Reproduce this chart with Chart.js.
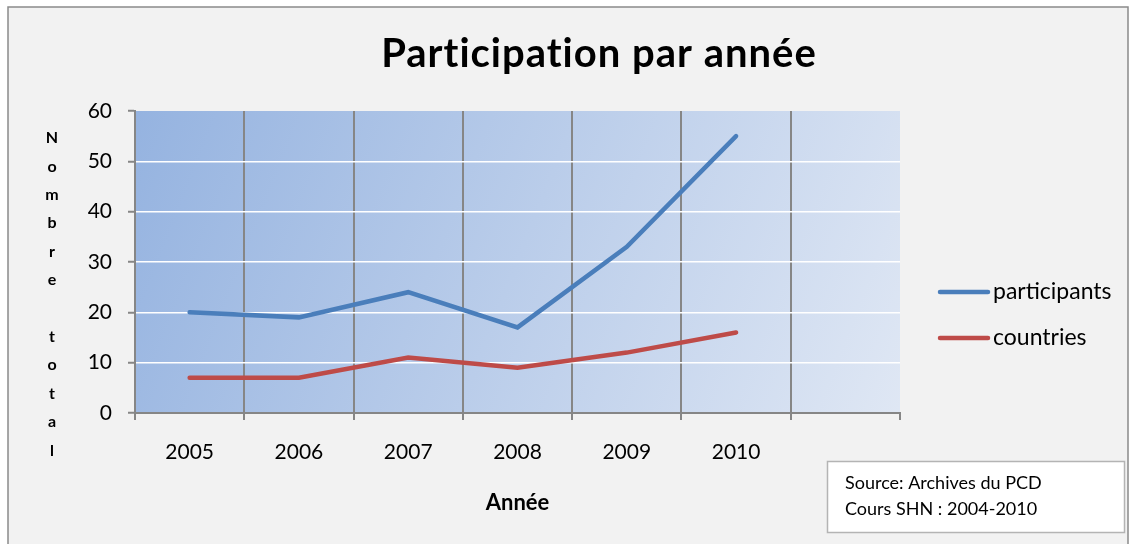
<!DOCTYPE html>
<html>
<head>
<meta charset="utf-8">
<script src="https://cdn.jsdelivr.net/npm/chart.js@4.4.1/dist/chart.umd.min.js"></script>
<style>
    html, body { margin: 0; padding: 0; background: #fff; }
    #cadre { width: 1133px; height: 544px; position: relative; }
</style>
</head>
<body>
<div id="cadre"><canvas id="estadistica1"></canvas></div>
<script>
// données
const annees = ['2005', '2006', '2007', '2008', '2009', '2010', ''];
const participants = [20, 19, 24, 17, 33, 55];
const pays = [7, 7, 11, 9, 12, 16];
const ticksY = [0, 10, 20, 30, 40, 50, 60];
const titre = 'Participation par année';
const titreY = 'Nombre total';
const titreX = 'Année';
const sourceLignes = ['Source: Archives du PCD', 'Cours SHN : 2004-2010'];

const police = 'Lato, "Open Sans", sans-serif';
Chart.defaults.font.family = police;
Chart.defaults.color = '#000';

const gris = '#868686';

const decor = {
    id: 'decor',
    beforeDraw(chart) {
        const c = chart.ctx;
        const a = chart.chartArea;
        c.save();
        c.fillStyle = '#fff';
        c.fillRect(0, 0, chart.width, chart.height);
        c.fillStyle = '#f2f2f2';
        c.fillRect(8, 7, 1120, 545);
        c.strokeStyle = '#8a8a8a';
        c.lineWidth = 1.5;
        c.strokeRect(8, 7, 1120, 545);

        const g = c.createLinearGradient(a.left, a.top, a.right, a.bottom);
        g.addColorStop(0, '#95b3e0');
        g.addColorStop(1, '#dfe7f4');
        c.fillStyle = g;
        c.fillRect(a.left, a.top, a.right - a.left, a.bottom - a.top);
        c.restore();
    },
    afterDraw(chart) {
        const c = chart.ctx;
        c.save();

        // titre
        c.fillStyle = '#000';
        c.textAlign = 'center';
        c.textBaseline = 'alphabetic';
        c.font = 'bold 40px ' + police;
        c.letterSpacing = '1px';
        c.fillText(titre, 599, 67);
        c.letterSpacing = '0px';

        // titre vertical, une lettre par ligne
        c.textBaseline = 'middle';
        c.font = 'bold 16px ' + police;
        titreY.split('').forEach((lettre, i) => {
            c.fillText(lettre, 52, 138 + i * 28.4);
        });

        // légende
        c.textAlign = 'left';
        c.font = '23px ' + police;
        chart.data.datasets.forEach((ds, i) => {
            const y = 292 + i * 46;
            c.strokeStyle = ds.borderColor;
            c.lineWidth = 4.5;
            c.lineCap = 'round';
            c.beginPath();
            c.moveTo(940, y);
            c.lineTo(988, y);
            c.stroke();
            c.fillStyle = '#000';
            c.fillText(ds.label, 993, y);
        });

        // encadré source
        c.fillStyle = '#fff';
        c.fillRect(827.5, 461.5, 297, 71);
        c.strokeStyle = '#b4b4b4';
        c.lineWidth = 1.5;
        c.strokeRect(827.5, 461.5, 297, 71);
        c.fillStyle = '#000';
        c.font = '18px ' + police;
        sourceLignes.forEach((ligne, i) => {
            c.fillText(ligne, 845, 483 + i * 26);
        });

        c.restore();
    }
};

const ctx = document.getElementById('estadistica1');

new Chart(ctx, {
    type: 'line',
    data: {
        labels: annees,
        datasets: [
            {
                label: 'participants',
                data: participants,
                borderColor: '#4a7ebb',
                borderWidth: 4.5,
                borderCapStyle: 'round',
                borderJoinStyle: 'miter',
                pointRadius: 0,
                tension: 0,
                fill: false,
            },
            {
                label: 'countries',
                data: pays,
                borderColor: '#be4b48',
                borderWidth: 4.5,
                borderCapStyle: 'round',
                borderJoinStyle: 'miter',
                pointRadius: 0,
                tension: 0,
                fill: false,
            },
        ],
    },
    options: {
        responsive: true,
        maintainAspectRatio: false,
        animation: false,
        layout: {
            padding: { top: 111, right: 233, left: 0, bottom: 0 },
        },
        plugins: {
            legend: { display: false },
            title: { display: false },
            tooltip: { enabled: false },
        },
        scales: {
            x: {
                offset: true,
                grid: {
                    offset: true,
                    color: (c) => c.type === 'tick' ? gris : 'rgba(0,0,0,0)',
                    lineWidth: 2,
                    tickLength: 7,
                    tickColor: gris,
                    tickWidth: 2,
                },
                border: { color: gris, width: 2 },
                ticks: {
                    padding: 20,
                    autoSkip: false,
                    maxRotation: 0,
                    font: { size: 21 },
                },
                title: {
                    display: true,
                    text: titreX,
                    font: { size: 22, weight: 'bold' },
                    padding: { top: 0, bottom: 28 },
                },
                afterFit(s) { s.height = 131; },
            },
            y: {
                min: 0,
                max: 60,
                afterBuildTicks(s) { s.ticks = ticksY.map(v => ({ value: v })); },
                grid: {
                    color: (c) => c.tick && c.tick.value === 60 ? 'rgba(0,0,0,0)' : '#ffffff',
                    lineWidth: 1.5,
                    tickLength: 7,
                    tickColor: gris,
                    tickWidth: 2,
                },
                border: { color: gris, width: 2 },
                ticks: {
                    padding: 16,
                    font: { size: 21 },
                },
                afterFit(s) { s.width = 135; },
            },
        },
    },
    plugins: [decor],
});
</script>
</body>
</html>
